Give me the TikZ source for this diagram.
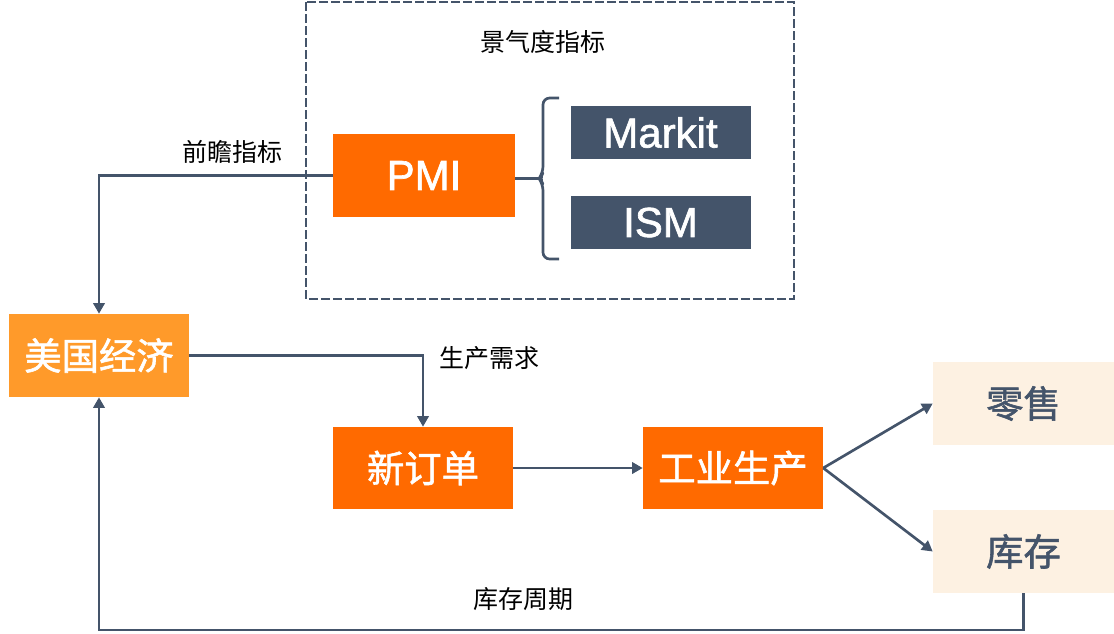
\documentclass[tikz,border=0pt]{standalone}
\usepackage{fontspec}
\setmainfont{Liberation Sans}
\newfontfamily\latb{Liberation Sans}[FakeBold=1.5]
\newfontfamily\cjk{Noto Sans CJK SC}
\newfontfamily\cjkb{Noto Sans CJK SC}[FakeBold=1.5]
\usetikzlibrary{arrows.meta}
\definecolor{org}{HTML}{FF6A00}
\definecolor{lorg}{HTML}{FF9A2A}
\definecolor{slate}{HTML}{44546A}
\definecolor{beige}{HTML}{FDF1E2}
\tikzset{
  box/.style={draw=none, inner sep=0pt, minimum width=135pt, minimum height=61.5pt, text=white},
  obox/.style={box, fill=org, font=\cjkb\fontsize{28}{30}\selectfont},
  sbox/.style={box, fill=slate, minimum height=39.75pt, font=\latb\fontsize{31.5}{33}\selectfont},
  bbox/.style={box, fill=beige, minimum height=62.25pt, minimum width=135.75pt, text=slate, font=\cjkb\fontsize{28}{30}\selectfont},
  lbl/.style={inner sep=0pt, font=\cjk\fontsize{18.75}{20}\selectfont, text=black},
  conn/.style={draw=slate, line width=2pt},
  arr/.style={conn, -{Triangle[length=8pt,width=8.5pt]}},
}
\begin{document}
\begin{tikzpicture}[x=0.75pt,y=-0.75pt]
\useasboundingbox (0,0) rectangle (1114,633);
% dashed frame
\draw[slate, line width=2.1pt, dash pattern=on 6.5pt off 2.5pt] (306,2) rectangle (794,299);
\node[lbl] (jqd) at (543,42) {景气度指标};
\node[box, fill=org, minimum width=136.5pt, minimum height=62.25pt, font=\latb\fontsize{31.5}{33}\selectfont] (pmi) at (424,175.5) {PMI};
\node[sbox] (markit) at (660.5,132.5) {Markit};
\node[sbox] (ism) at (660.5,222.5) {ISM};
% brace
\draw[conn, line join=round, rounded corners=5pt] (559,98) -- (543,98) -- (543,173) -- (539,178.5) -- (543,184) -- (543,259) -- (559,259);
\coordinate (tip) at (540,178.5);
\draw[conn] (pmi.east |- tip) -- (tip);
\node[lbl] (qz) at (232,152) {前瞻指标};
\node[box, fill=lorg, minimum height=62.25pt, font=\cjkb\fontsize{28}{30}\selectfont] (mg) at (99,355.5) {美国经济};
\node[obox] (xdd) at (423,468) {新订单};
\node[obox] (gy) at (733,468) {工业生产};
\node[bbox] (ls) at (1023.5,403.5) {零售};
\node[bbox] (kc) at (1023.5,551.5) {库存};
\node[lbl] (sc) at (489,358) {生产需求};
\node[lbl] (kczq) at (523,599) {库存周期};
% connectors
\draw[arr] (pmi.west) -| (mg.north);
\draw[arr] (mg.east) -| (xdd.north);
\draw[arr] (xdd.east) -- (gy.west);
\draw[arr] (gy.east) -- (ls.west);
\draw[arr] (gy.east) -- (kc.west);
\coordinate (bot) at (0,630);
\draw[arr] (kc.south) -- (kc.south |- bot) -| (mg.south);
\end{tikzpicture}
\end{document}
